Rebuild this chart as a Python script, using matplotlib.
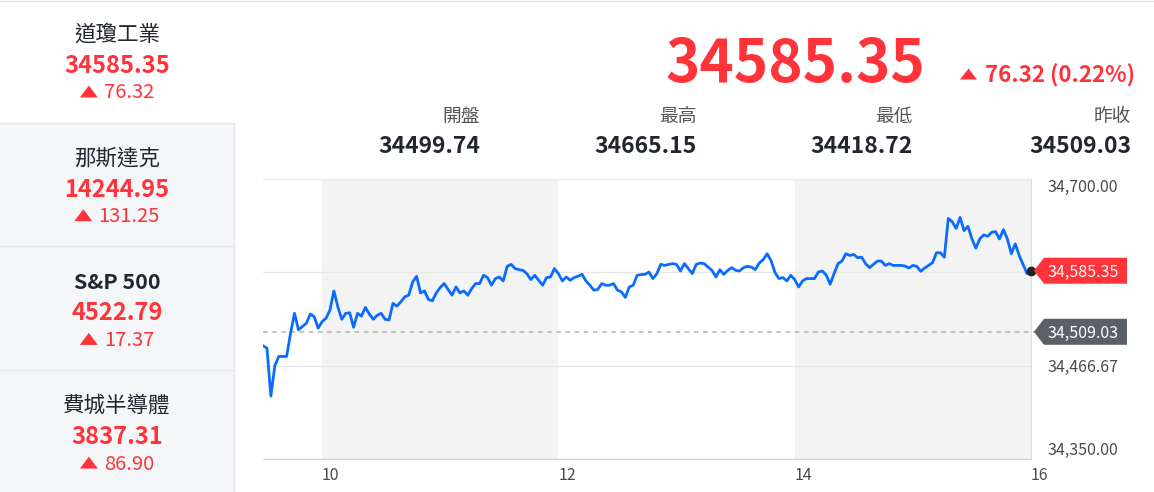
import numpy as np
import matplotlib
matplotlib.use('Agg')
import matplotlib.pyplot as plt
from matplotlib.patches import Polygon, Rectangle
from matplotlib.lines import Line2D

W, H = 1154, 492

# sidebar quotes
names = ['道瓊工業', '那斯達克', 'S&P 500', '費城半導體']
prices = [34585.35, 14244.95, 4522.79, 3837.31]
changes = [76.32, 131.25, 17.37, 86.90]

# header
last = 34585.35
chg = 76.32
chg_pct = 0.22
stat_labels = ['開盤', '最高', '最低', '昨收']
stat_values = [34499.74, 34665.15, 34418.72, 34509.03]
prev_close = 34509.03

# intraday quotes, one every 2 minutes from 9:30
dow = [
    34491.5, 34488.6, 34428.6, 34466.7, 34478.2, 34478.2, 34478.2, 34507.3, 34532.1, 34511.4,
    34515.5, 34519.7, 34531.2, 34527.9, 34513.5, 34521.7, 34525.9, 34536.2, 34560.1, 34540.3,
    34524.6, 34532.1, 34532.8, 34514.7, 34532.1, 34528.7, 34539.5, 34531.2, 34524.6, 34529.6,
    34532.1, 34524.6, 34523.8, 34544.5, 34541.1, 34546.5, 34552.7, 34554.8, 34571.3, 34578.4,
    34557.6, 34560.1, 34549.5, 34547.7, 34557.6, 34564.4, 34569.3, 34561.9, 34554.8, 34565.1,
    34557.6, 34560.1, 34554.8, 34563.1, 34569.3, 34569.3, 34579.6, 34576.8, 34567.2, 34575.5,
    34577.5, 34572.6, 34590.8, 34593.3, 34588.0, 34586.7, 34585.8, 34581.7, 34574.3, 34579.6,
    34573.4, 34567.2, 34576.8, 34577.5, 34588.0, 34581.7, 34572.6, 34577.5, 34573.4, 34576.8,
    34578.4, 34580.9, 34572.6, 34567.2, 34561.0, 34561.9, 34569.3, 34567.2, 34567.2, 34569.3,
    34561.0, 34558.9, 34552.0, 34565.1, 34567.2, 34579.6, 34580.5, 34580.9, 34583.7, 34575.5,
    34581.7, 34593.3, 34592.0, 34593.3, 34594.2, 34593.3, 34585.0, 34594.2, 34588.0, 34581.7,
    34593.3, 34594.9, 34594.2, 34589.9, 34585.8, 34577.5, 34586.7, 34580.9, 34585.8, 34589.2,
    34585.8, 34585.0, 34589.2, 34590.8, 34589.9, 34586.7, 34594.9, 34599.1, 34606.6, 34598.0,
    34583.0, 34575.5, 34576.8, 34572.6, 34579.6, 34574.3, 34565.1, 34572.6, 34575.5, 34575.5,
    34575.5, 34583.7, 34585.0, 34580.0, 34568.4, 34581.7, 34594.2, 34597.4, 34606.6, 34604.4,
    34605.7, 34601.6, 34602.3, 34594.2, 34589.2, 34593.3, 34597.4, 34597.4, 34592.0, 34594.2,
    34592.0, 34592.0, 34592.0, 34591.2, 34588.7, 34592.0, 34590.8, 34584.6, 34588.7, 34592.0,
    34595.4, 34607.8, 34607.8, 34602.3, 34650.7, 34646.6, 34638.3, 34652.0, 34635.5, 34640.8,
    34625.1, 34613.5, 34625.1, 34630.1, 34628.4, 34633.3, 34634.2, 34625.1, 34636.7, 34625.1,
    34606.6, 34619.0, 34604.4, 34592.9, 34581.7, 34585.35,
]
hour_ticks = [10, 12, 14, 16]
shaded_hours = [(10, 12), (14, 16)]
y_ticks = [34350.00, 34466.67, 34583.33, 34700.00]

RED = '#ff333a'
DARK = '#22262e'
GRAY = '#555555'
BLUE = '#0a6cff'

plt.rcParams['font.family'] = ['Noto Sans CJK TC', 'DejaVu Sans']


def fx(x):
    return x / W


def fy(y):
    return 1 - y / H


def triangle(x0, ybase, w, h):
    pts = [(x0, ybase), (x0 + w, ybase), (x0 + w / 2, ybase - h)]
    fig.patches.append(Polygon([(fx(a), fy(b)) for a, b in pts], closed=True,
                               transform=fig.transFigure, facecolor=RED,
                               edgecolor='none', zorder=3))


fig = plt.figure(figsize=(W / 100, H / 100), dpi=100)
renderer = fig.canvas.get_renderer()

# sidebar background and borders
fig.patches.append(Rectangle((0, 0), fx(234), fy(123), transform=fig.transFigure,
                             facecolor='#f5f6f8', edgecolor='none', zorder=0))
line_kw = dict(transform=fig.transFigure, color='#e3e5ea', lw=1, zorder=1)
fig.add_artist(Line2D([fx(234), fx(234)], [fy(123), 0], **line_kw))
for yy in [123, 246, 370]:
    fig.add_artist(Line2D([0, fx(234)], [fy(yy), fy(yy)], **line_kw))
fig.add_artist(Line2D([0, 1], [fy(0.5), fy(0.5)], **line_kw))

for i, (name, p, c) in enumerate(zip(names, prices, changes)):
    y0 = 35 + i * 123.7
    bold = 'bold' if name.isascii() else 'medium'
    fig.text(fx(117), fy(y0), name, ha='center', va='center', fontsize=15.5,
             color=DARK, fontweight=bold)
    fig.text(fx(117), fy(y0 + 38), f'{p:.2f}', ha='center', va='baseline',
             fontsize=17, fontweight='bold', color=RED)
    t = fig.text(0, fy(y0 + 63.5), f'{c:.2f}', ha='left', va='baseline',
                 fontsize=14.5, color=RED)
    tw = t.get_window_extent(renderer).width
    left = 117 - (18 + 6 + tw) / 2
    t.set_x(fx(left + 24))
    triangle(left, y0 + 62.5, 18, 12)

# header
fig.text(fx(925), fy(82), f'{last:.2f}', ha='right', va='baseline', fontsize=42,
         fontweight='bold', color=RED)
fig.text(fx(985), fy(82.7), f'{chg:.2f} ({chg_pct:.2f}%)', ha='left',
         va='baseline', fontsize=16, fontweight='bold', color=RED)
triangle(960, 79.5, 17, 11)

for lbl, v, xr in zip(stat_labels, stat_values, [480, 697, 913, 1131]):
    fig.text(fx(xr), fy(116), lbl, ha='right', va='center', fontsize=13.5, color=GRAY)
    fig.text(fx(xr), fy(152.7), f'{v:.2f}', ha='right', va='baseline', fontsize=16.5,
             fontweight='bold', color=DARK)

# chart
ax = fig.add_axes([fx(263), fy(459), (1031 - 263) / W, (459 - 179) / H])
hours = 9.5 + np.arange(len(dow)) * 2 / 60
for a, b in shaded_hours:
    ax.axvspan(a, b, color='#f3f3f3', lw=0, zorder=0)
ax.axhline(prev_close, color='#b3b3b3', lw=1.1, dashes=(3, 3), xmax=1.006,
           clip_on=False, zorder=1)
ax.plot(hours, dow, color=BLUE, lw=2.0, zorder=3, solid_joinstyle='round')
ax.plot(hours[-1], dow[-1], 'o', color='#222222', ms=6, zorder=4, clip_on=False)

ax.set_xlim(9.5, 16)
ax.set_ylim(y_ticks[0], y_ticks[-1])
ax.set_xticks(hour_ticks)
ax.set_xticklabels([str(h) for h in hour_ticks])
ax.set_yticks(y_ticks)
ax.set_yticklabels([f'{v:,.2f}' if i != 2 else '' for i, v in enumerate(y_ticks)])
ax.yaxis.tick_right()
ax.tick_params(axis='y', length=0, pad=12, labelsize=11.5, labelcolor='#4a4a4a')
ax.tick_params(axis='x', length=0, pad=6, labelsize=11.5, labelcolor='#4a4a4a')
for tk in ax.xaxis.get_major_ticks():
    tk.label1.set_ha('left')
yt = ax.yaxis.get_major_ticks()
yt[0].label2.set_va('bottom')
yt[-1].label2.set_va('top')
ax.grid(axis='y', color='#e8e8e8', lw=1)
ax.set_axisbelow(True)
for s in ['left', 'top']:
    ax.spines[s].set_visible(False)
ax.spines['right'].set_color('#d8dbe2')
ax.spines['bottom'].set_color('#cfd2d8')
ax.set_facecolor('none')


def price_tag(value, color):
    y = H - ax.transData.transform((16, value))[1]
    pts = [(1034, y), (1044, y - 13), (1127, y - 13), (1127, y + 13), (1044, y + 13)]
    fig.patches.append(Polygon([(fx(a), fy(b)) for a, b in pts], closed=True,
                               transform=fig.transFigure, facecolor=color,
                               edgecolor='none', zorder=5))
    fig.text(fx(1083), fy(y), f'{value:,.2f}', ha='center', va='center_baseline',
             fontsize=11.5, color='white', zorder=6)


price_tag(prev_close, '#5b6068')
price_tag(last, RED)

fig.savefig('out.png', dpi=100)
